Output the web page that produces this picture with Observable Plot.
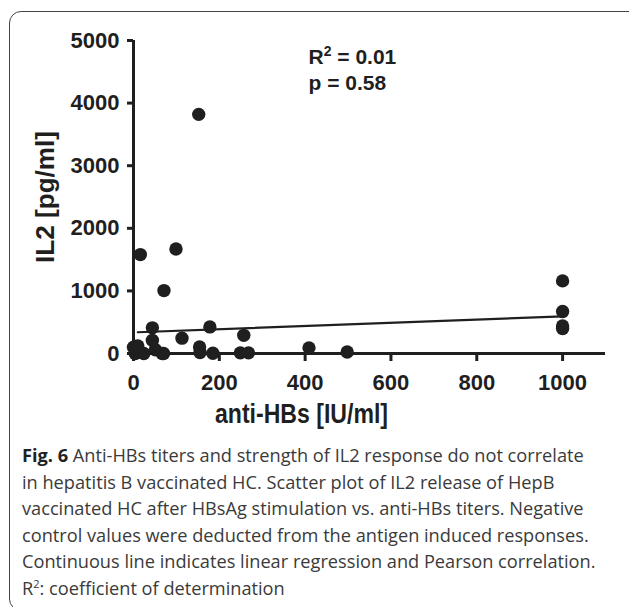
<!DOCTYPE html>
<html><head><meta charset="utf-8">
<script src="https://cdn.jsdelivr.net/npm/d3@7"></script>
<script src="https://cdn.jsdelivr.net/npm/@observablehq/plot@0.6"></script>
<style>
body{margin:0;background:#fff;width:629px;height:607px;overflow:hidden;position:relative;}
#frame{position:absolute;left:9px;top:11px;width:660px;height:600px;border:1.5px solid #444;border-radius:12px;box-sizing:border-box}
#chart{position:absolute;left:0;top:0}
#caption{position:absolute;left:22px;top:442px;width:600px;font-family:"Open Sans",sans-serif;font-size:18.2px;line-height:26.6px;color:#3a3a3a;white-space:nowrap}
#caption b{color:#222}
sup{font-size:11px;line-height:0}
</style></head><body>
<div id="frame"></div>
<div id="chart"></div>
<div id="caption"><b>Fig. 6</b> Anti-HBs titers and strength of IL2 response do not correlate<br>in hepatitis B vaccinated HC. Scatter plot of IL2 release of HepB<br>vaccinated HC after HBsAg stimulation vs. anti-HBs titers. Negative<br>control values were deducted from the antigen induced responses.<br>Continuous line indicates linear regression and Pearson correlation.<br>R<sup>2</sup>: coefficient of determination</div>
<script>
// anti-HBs titers [IU/ml]
const antiHBs = [16, 99, 71, 152, 1000, 1000, 1000, 1000, 44, 178, 113, 257, 409, 498, 249, 268, 154, 155, 185, 70, 44, 51, 67, 0, 4, 24, 10];
// IL2 [pg/ml]
const il2 = [1580, 1670, 1005, 3820, 1160, 670, 440, 400, 410, 425, 245, 290, 90, 25, 10, 10, 105, 15, 5, 0, 210, 60, 0, 100, 0, 0, 120];
const xTicks = [0, 200, 400, 600, 800, 1000];
const yTicks = [0, 1000, 2000, 3000, 4000, 5000];
// linear regression [intercept, slope] as shown
const fitCoef = [337, 0.255];
const statLines = ["R2 = 0.01", "p = 0.58"];
const xLabel = "anti-HBs [IU/ml]";
const yLabel = "IL2 [pg/ml]";

const points = antiHBs.map((x, i) => ({x, y: il2[i]}));
const xExt = [10, d3.max(antiHBs)];
const fitLine = xExt.map(x => ({x, y: fitCoef[0] + fitCoef[1] * x}));
const ink = "#1f1f1f";

const chart = Plot.plot({
  width: 629, height: 432,
  marginLeft: 133, marginRight: 24, marginTop: 40, marginBottom: 79,
  x: {domain: [0, 1100]},
  y: {domain: [0, 5000]},
  style: {fontFamily: "'Liberation Sans', Arial, sans-serif", fontWeight: "bold", color: ink, background: "transparent", overflow: "visible"},
  marks: [
    Plot.axisX({ticks: xTicks, tickSize: 8, tickPadding: 13, fontSize: 22, strokeWidth: 3, tickFormat: d3.format("d"), label: null}),
    Plot.axisY({ticks: yTicks, tickSize: 6, tickPadding: 8, fontSize: 22, strokeWidth: 3, tickFormat: d3.format("d"), label: null}),
    Plot.ruleY([0], {x1: 0, x2: 1100, stroke: ink, strokeWidth: 3}),
    Plot.ruleX([0], {y1: 0, y2: 5000, stroke: ink, strokeWidth: 3}),
    Plot.line(fitLine, {x: "x", y: "y", stroke: ink, strokeWidth: 2.2}),
    Plot.dot(points, {x: "x", y: "y", r: 6.7, fill: ink, stroke: "none"}),
    Plot.text([xLabel], {frameAnchor: "bottom", textAnchor: "middle", dx: -68, dy: 69, fontSize: 27, fill: ink, className: "xlab"}),
    Plot.text([yLabel], {frameAnchor: "left", textAnchor: "middle", rotate: -90, dx: -88, fontSize: 26, fill: ink, className: "ylab"}),
    Plot.text([statLines.join("\n")], {frameAnchor: "top-left", textAnchor: "start", lineAnchor: "top", dx: 175, dy: 5, fontSize: 21, lineHeight: 1.25, fill: ink, className: "stats"})
  ]
});
chart.querySelectorAll(".xlab text").forEach(t => { t.setAttribute("textLength", 173); t.setAttribute("lengthAdjust", "spacingAndGlyphs"); });
chart.querySelectorAll(".ylab text").forEach(t => { t.setAttribute("textLength", 132); t.setAttribute("lengthAdjust", "spacingAndGlyphs"); });
// superscript the "2" of R2
chart.querySelectorAll(".stats tspan").forEach(ts => {
  const s = ts.textContent;
  if (s.startsWith("R2")) {
    const ns = "http://www.w3.org/2000/svg";
    ts.textContent = "R";
    const sup = document.createElementNS(ns, "tspan");
    sup.setAttribute("dy", "-8"); sup.setAttribute("font-size", "14"); sup.textContent = "2";
    const rest = document.createElementNS(ns, "tspan");
    rest.setAttribute("dy", "8"); rest.textContent = s.slice(2);
    ts.appendChild(sup); ts.appendChild(rest);
  }
});
document.getElementById("chart").appendChild(chart);
</script>
</body></html>
